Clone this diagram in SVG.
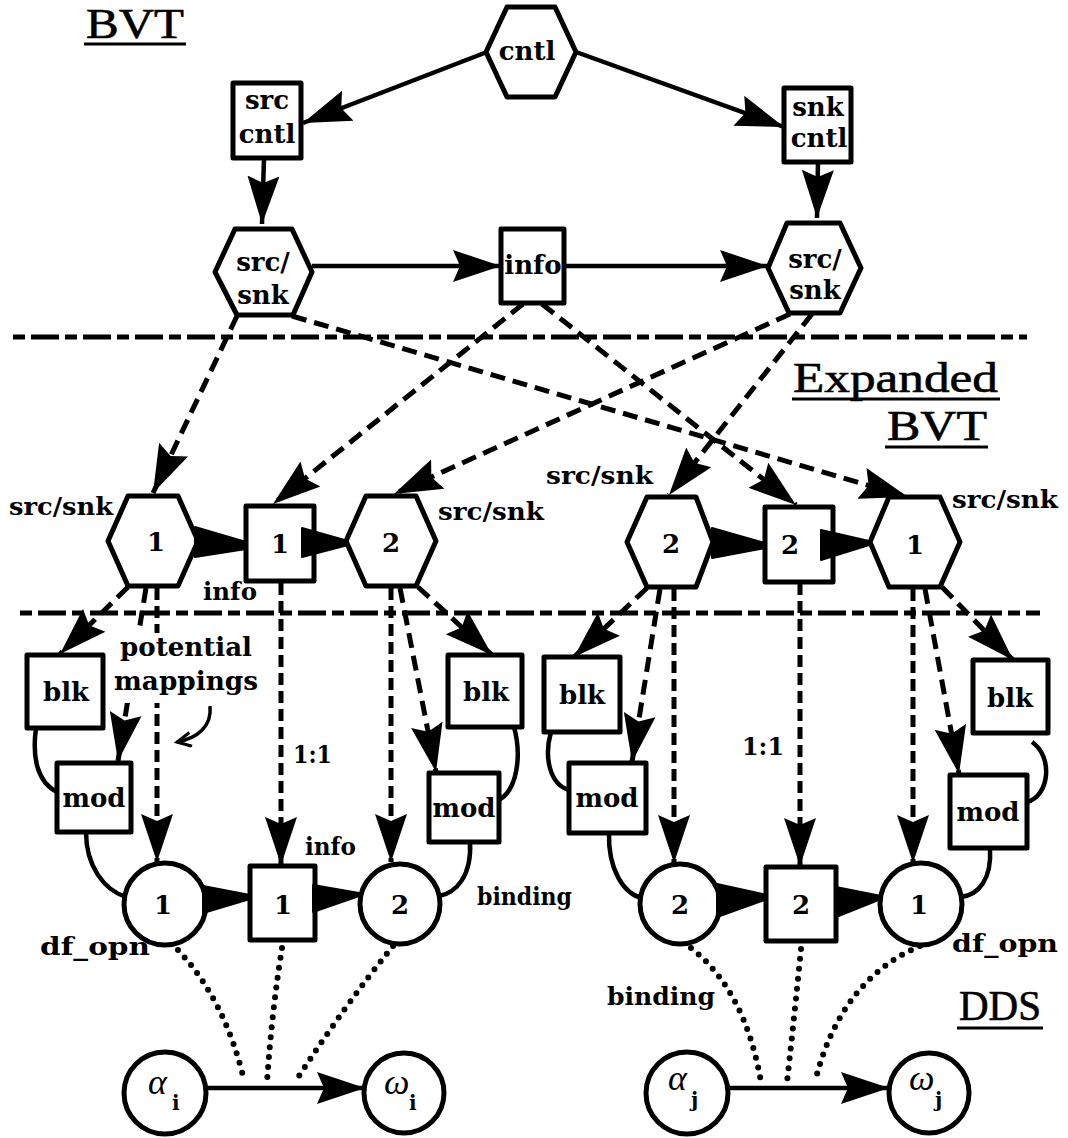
<svg xmlns="http://www.w3.org/2000/svg" width="1068" height="1138" viewBox="0 0 1068 1138">
<style>
.n{fill:#fff;stroke:#000;stroke-width:5;stroke-linejoin:round}
.t{font-family:"DejaVu Serif",serif;font-weight:bold;font-size:26px;text-anchor:middle;fill:#000}
.l{font-family:"DejaVu Serif",serif;font-weight:bold;font-size:25px;fill:#000}
.h{font-family:"Liberation Serif",serif;font-size:42px;fill:#000;stroke:#000;stroke-width:0.6}
.g{font-family:"Liberation Serif",serif;font-style:italic;font-size:36px;fill:#000}
.sub{font-family:"DejaVu Serif",serif;font-weight:bold;font-size:20px;fill:#000}
.s{stroke:#000;stroke-width:4.5;fill:none}
.d{stroke:#000;stroke-width:5;fill:none;stroke-dasharray:15 8}
.v{stroke:#000;stroke-width:5;fill:none;stroke-dasharray:12 6}
.sep{stroke:#000;stroke-width:5;fill:none;stroke-dasharray:12 6 28 6}
.dot{stroke:#000;stroke-width:6;fill:none;stroke-linecap:round;stroke-dasharray:0 10}
.ul{stroke:#000;stroke-width:3}
.tri{fill:#000;stroke:#000;stroke-width:2;stroke-linejoin:round}
</style>
<defs>
<marker id="ah" markerUnits="userSpaceOnUse" markerWidth="52" markerHeight="36" refX="48" refY="17" orient="auto">
<path d="M0,1 L48,17 L0,33 L7,17 z" fill="#000"/>
</marker>
<marker id="oa" markerUnits="userSpaceOnUse" markerWidth="20" markerHeight="20" refX="16" refY="8" orient="auto">
<path d="M2,1 L16,8 L2,15" fill="none" stroke="#000" stroke-width="3"/>
</marker>
</defs>
<rect width="1068" height="1138" fill="#fff"/>

<!-- titles -->
<g id="title-bvt"><text class="h" x="86" y="38" textLength="98" lengthAdjust="spacingAndGlyphs">BVT</text><line class="ul" x1="84" y1="44" x2="186" y2="44"/></g>
<g id="title-expanded"><text class="h" x="793" y="392" textLength="205" lengthAdjust="spacingAndGlyphs">Expanded</text><line class="ul" x1="792" y1="399" x2="1000" y2="399"/>
<text class="h" x="887" y="440" textLength="100" lengthAdjust="spacingAndGlyphs">BVT</text><line class="ul" x1="885" y1="447" x2="988" y2="447"/></g>
<g id="title-dds"><text class="h" x="959" y="1020" textLength="82" lengthAdjust="spacingAndGlyphs">DDS</text><line class="ul" x1="957" y1="1028" x2="1043" y2="1028"/></g>

<!-- separators -->
<g id="separators">
<path class="sep" d="M13,337 L1027,337"/>
<path class="sep" d="M20,613 L1040,613"/>
</g>

<!-- BVT nodes -->
<g id="cntl"><polygon class="n" points="486,52 507,7 555,7 576,52 555,97 507,97"/><text class="t" x="527" y="60">cntl</text></g>
<g id="src-cntl"><rect class="n" x="233" y="83" width="68" height="75"/><text class="t" x="267" y="109">src</text><text class="t" x="267" y="143">cntl</text></g>
<g id="snk-cntl"><rect class="n" x="784" y="88" width="67" height="74"/><text class="t" x="818" y="116">snk</text><text class="t" x="819" y="147">cntl</text></g>
<g id="srcsnk-top-l"><polygon class="n" points="215,272 235,229 292,229 312,272 293,315 237,315"/><text class="t" x="263" y="271">src/</text><text class="t" x="263" y="304">snk</text></g>
<g id="info-top"><rect class="n" x="501" y="229" width="63" height="74"/><text class="t" x="533" y="274">info</text></g>
<g id="srcsnk-top-r"><polygon class="n" points="768,268 787,223 840,223 861,268 840,313 789,313"/><text class="t" x="815" y="268">src/</text><text class="t" x="815" y="299">snk</text></g>

<!-- Expanded BVT nodes -->
<g id="ex-ss1-l"><polygon class="n" points="108,541 128,496 178,496 198,541 178,586 128,586"/><text class="t" x="156" y="551">1</text></g>
<g id="ex-info1"><rect class="n" x="246" y="506" width="68" height="75"/><text class="t" x="280" y="553">1</text></g>
<g id="ex-ss2-l"><polygon class="n" points="346,541 366,496 416,496 436,541 416,586 366,586"/><text class="t" x="391" y="552">2</text></g>
<g id="ex-ss2-r"><polygon class="n" points="627,542 647,497 696,497 713,542 696,587 647,587"/><text class="t" x="671" y="553">2</text></g>
<g id="ex-info2"><rect class="n" x="765" y="507" width="68" height="75"/><text class="t" x="790" y="554">2</text></g>
<g id="ex-ss1-r"><polygon class="n" points="870,542 889,497 940,497 960,542 940,587 889,587"/><text class="t" x="915" y="554">1</text></g>

<!-- DDS nodes -->
<g id="blk-1"><rect class="n" x="27" y="655" width="76" height="73"/><text class="t" x="66" y="701">blk</text></g>
<g id="mod-1"><rect class="n" x="57" y="763" width="74" height="69"/><text class="t" x="94" y="807">mod</text></g>
<g id="blk-2"><rect class="n" x="448" y="655" width="74" height="72"/><text class="t" x="486" y="701">blk</text></g>
<g id="mod-2"><rect class="n" x="429" y="773" width="70" height="69"/><text class="t" x="464" y="817">mod</text></g>
<g id="blk-3"><rect class="n" x="544" y="657" width="76" height="75"/><text class="t" x="582" y="704">blk</text></g>
<g id="mod-3"><rect class="n" x="569" y="763" width="77" height="70"/><text class="t" x="607" y="807">mod</text></g>
<g id="blk-4"><rect class="n" x="973" y="660" width="75" height="73"/><text class="t" x="1010" y="707">blk</text></g>
<g id="mod-4"><rect class="n" x="950" y="775" width="77" height="73"/><text class="t" x="988" y="821">mod</text></g>

<g id="dfopn-1-l"><circle class="n" cx="165" cy="904" r="41"/><text class="t" x="163" y="914">1</text></g>
<g id="info-dds-1"><rect class="n" x="250" y="866" width="65" height="74"/><text class="t" x="283" y="914">1</text></g>
<g id="dfopn-2-l"><circle class="n" cx="400" cy="904" r="40"/><text class="t" x="400" y="914">2</text></g>
<g id="dfopn-2-r"><circle class="n" cx="680" cy="904" r="40"/><text class="t" x="680" y="914">2</text></g>
<g id="info-dds-2"><rect class="n" x="766" y="867" width="70" height="74"/><text class="t" x="801" y="914">2</text></g>
<g id="dfopn-1-r"><circle class="n" cx="921" cy="904" r="41"/><text class="t" x="919" y="914">1</text></g>

<g id="alpha-i"><circle class="n" cx="165" cy="1093" r="41"/><text class="g" x="148" y="1094">α</text><text class="sub" x="172" y="1110">i</text></g>
<g id="omega-i"><circle class="n" cx="404" cy="1093" r="40"/><text class="g" x="384" y="1094">ω</text><text class="sub" x="409" y="1110">i</text></g>
<g id="alpha-j"><circle class="n" cx="687" cy="1093" r="41"/><text class="g" x="668" y="1090">α</text><text class="sub" x="691" y="1107">j</text></g>
<g id="omega-j"><circle class="n" cx="929" cy="1093" r="40"/><text class="g" x="909" y="1090">ω</text><text class="sub" x="935" y="1107">j</text></g>

<!-- connectors -->
<g id="connectors">
<path class="s" d="M487,52 L303,123" marker-end="url(#ah)"/>
<path class="s" d="M576,52 L784,127" marker-end="url(#ah)"/>
<path class="s" d="M264,158 L262,224" marker-end="url(#ah)"/>
<path class="s" d="M818,162 L817,218" marker-end="url(#ah)"/>
<path class="s" d="M312,266 L501,266" marker-end="url(#ah)"/>
<path class="s" d="M564,266 L768,266" marker-end="url(#ah)"/>

<path class="d" d="M237,316 L153,493" marker-end="url(#ah)"/>
<path class="d" d="M292,316 L908,497" marker-end="url(#ah)"/>
<path class="d" d="M523,304 L273,504" marker-end="url(#ah)"/>
<path class="d" d="M542,304 L796,505" marker-end="url(#ah)"/>
<path class="d" d="M790,314 L394,494" marker-end="url(#ah)"/>
<path class="d" d="M812,314 L669,495" marker-end="url(#ah)"/>

<polygon class="tri" points="195,527 246,542 246,549 195,557"/>
<polygon class="tri" points="302,528 348,541 348,545 302,557"/>
<polygon class="tri" points="712,528 765,543 765,548 712,558"/>
<polygon class="tri" points="821,530 869,541 869,545 821,560"/>

<path class="d" d="M128,587 L60,654" marker-end="url(#ah)"/>
<path class="d" d="M146,588 L118,761" marker-end="url(#ah)"/>
<path class="v" d="M157,588 L157,862" marker-end="url(#ah)"/>
<path class="v" d="M281,583 L281,865" marker-end="url(#ah)"/>
<path class="v" d="M391,588 L391,862" marker-end="url(#ah)"/>
<path class="d" d="M400,588 L436,772" marker-end="url(#ah)"/>
<path class="d" d="M418,587 L492,655" marker-end="url(#ah)"/>

<path class="d" d="M647,588 L574,657" marker-end="url(#ah)"/>
<path class="d" d="M660,589 L632,762" marker-end="url(#ah)"/>
<path class="v" d="M674,589 L674,863" marker-end="url(#ah)"/>
<path class="v" d="M800,583 L800,866" marker-end="url(#ah)"/>
<path class="v" d="M913,589 L913,863" marker-end="url(#ah)"/>
<path class="d" d="M925,589 L959,774" marker-end="url(#ah)"/>
<path class="d" d="M942,587 L1013,660" marker-end="url(#ah)"/>

<path class="s" d="M36,728 C32,757 37,782 57,792"/>
<path class="s" d="M86,832 C86,866 104,890 126,897"/>
<path class="s" d="M514,727 C522,756 517,790 499,800"/>
<path class="s" d="M470,842 C472,876 456,893 439,896"/>
<path class="s" d="M551,732 C544,756 549,784 569,790"/>
<path class="s" d="M609,833 C608,870 624,894 642,898"/>
<path class="s" d="M1032,742 C1053,756 1050,796 1027,802"/>
<path class="s" d="M990,848 C992,880 978,895 961,897"/>

<polygon class="tri" points="203,886 250,895 250,899 203,913"/>
<polygon class="tri" points="313,885 359,893 359,896 313,912"/>
<polygon class="tri" points="717,884 767,895 767,899 717,917"/>
<polygon class="tri" points="836,887 881,896 881,899 836,917"/>

<path class="dot" d="M178,950 Q225,1000 244,1080"/>
<path class="dot" d="M282,948 Q272,1010 267,1082"/>
<path class="dot" d="M393,946 Q345,1005 295,1082"/>
<path class="dot" d="M691,948 Q745,990 761,1082"/>
<path class="dot" d="M801,949 Q795,1010 787,1082"/>
<path class="dot" d="M920,946 Q840,980 815,1082"/>

<path class="s" d="M206,1088 L365,1088" marker-end="url(#ah)"/>
<path class="s" d="M728,1088 L889,1088" marker-end="url(#ah)"/>
</g>

<!-- labels -->
<g id="labels">
<text class="l" x="9" y="515" textLength="104" lengthAdjust="spacingAndGlyphs">src/snk</text>
<text class="l" x="438" y="520" textLength="106" lengthAdjust="spacingAndGlyphs">src/snk</text>
<text class="l" x="546" y="484" textLength="107" lengthAdjust="spacingAndGlyphs">src/snk</text>
<text class="l" x="952" y="508" textLength="106" lengthAdjust="spacingAndGlyphs">src/snk</text>
<text class="l" x="203" y="600" textLength="54" lengthAdjust="spacingAndGlyphs">info</text>
<rect x="112" y="633" width="150" height="70" fill="#fff"/>
<text class="t" x="186" y="656" textLength="132" lengthAdjust="spacingAndGlyphs">potential</text>
<text class="t" x="186" y="690" textLength="144" lengthAdjust="spacingAndGlyphs">mappings</text>
<path d="M210,706 C212,726 198,738 177,742" fill="none" stroke="#000" stroke-width="3.5" marker-end="url(#oa)"/>
<text class="l" x="293" y="763" textLength="39" lengthAdjust="spacingAndGlyphs">1:1</text>
<text class="l" x="742" y="755" textLength="42" lengthAdjust="spacingAndGlyphs">1:1</text>
<text class="l" x="305" y="855" textLength="51" lengthAdjust="spacingAndGlyphs">info</text>
<text class="l" x="477" y="905" textLength="95" lengthAdjust="spacingAndGlyphs">binding</text>
<text class="l" x="40" y="955" textLength="110" lengthAdjust="spacingAndGlyphs">df_opn</text>
<text class="l" x="952" y="952" textLength="106" lengthAdjust="spacingAndGlyphs">df_opn</text>
<text class="l" x="607" y="1005" textLength="108" lengthAdjust="spacingAndGlyphs">binding</text>
</g>
</svg>
